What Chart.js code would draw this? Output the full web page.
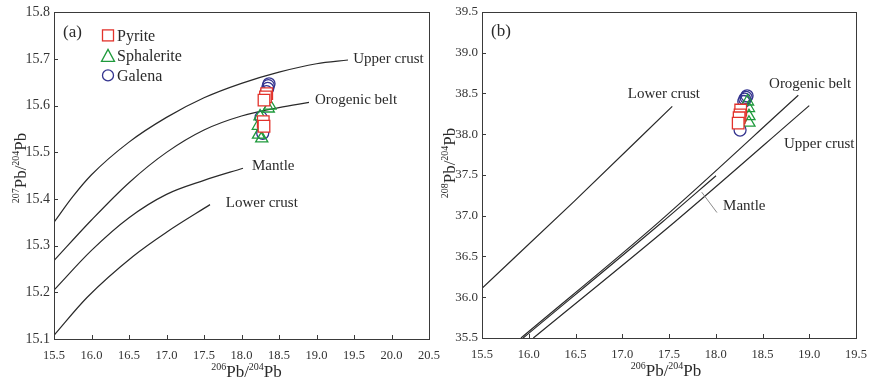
<!DOCTYPE html>
<html>
<head>
<meta charset="utf-8">
<script src="https://cdn.jsdelivr.net/npm/chart.js@4.4.1/dist/chart.umd.min.js"></script>
<style>
  body { margin: 0; background: #fff; }
  #wrap { position: relative; width: 877px; height: 381px; }
  #wrap canvas { position: absolute; top: 0; }
  #ca { left: 0; }
  #cb { left: 440px; }
</style>
</head>
<body>
<div id="wrap">
  <canvas id="ca" width="460" height="381"></canvas>
  <canvas id="cb" width="437" height="381"></canvas>
</div>
<script>
const SERIF = "'Liberation Serif', 'Times New Roman', serif";
const INK = '#2a2a2a';

// ---- (a) 206Pb/204Pb vs 207Pb/204Pb ----
const aUpperX = [15.5, 15.75, 16.0, 16.5, 17.0, 17.5, 18.0, 18.5, 19.0, 19.42];
const aUpperY = [15.35, 15.405, 15.452, 15.522, 15.575, 15.617, 15.648, 15.672, 15.69, 15.698];
const aOroX = [15.5, 16.0, 16.5, 17.0, 17.5, 18.0, 18.5, 18.9];
const aOroY = [15.268, 15.355, 15.435, 15.50, 15.548, 15.578, 15.596, 15.607];
const aMantleX = [15.5, 16.0, 16.5, 17.0, 17.5, 18.02];
const aMantleY = [15.205, 15.29, 15.36, 15.41, 15.44, 15.466];
const aLowerX = [15.5, 15.94, 16.56, 17.01, 17.58];
const aLowerY = [15.108, 15.189, 15.278, 15.33, 15.388];

const aPyriteX = [18.336, 18.32, 18.30, 18.29, 18.30];
const aPyriteY = [15.626, 15.619, 15.612, 15.566, 15.556];
const aSphalX = [18.357, 18.38, 18.247, 18.224, 18.227, 18.27];
const aSphalY = [15.594, 15.60, 15.577, 15.557, 15.538, 15.53];
const aGalenaX = [18.367, 18.357, 18.35, 18.333, 18.283, 18.26];
const aGalenaY = [15.647, 15.643, 15.637, 15.630, 15.541, 15.575];

// ---- (b) 206Pb/204Pb vs 208Pb/204Pb ----
const bLowerX = [15.5, 16.48, 17.535];
const bLowerY = [36.11, 37.17, 38.34];
const bOroX = [15.917, 17.40, 18.883];
const bOroY = [35.5, 36.93, 38.476];
const bMantleX = [15.94, 17.432, 18.003];
const bMantleY = [35.5, 36.926, 37.49];
const bUpperX = [16.049, 17.564, 19.0];
const bUpperY = [35.5, 36.926, 38.35];

const bPyriteX = [18.267, 18.26, 18.25, 18.24];
const bPyriteY = [38.295, 38.235, 38.20, 38.135];
const bSphalX = [18.34, 18.35, 18.355, 18.355];
const bSphalY = [38.40, 38.32, 38.22, 38.14];
const bGalenaX = [18.335, 18.325, 18.31, 18.30, 18.26];
const bGalenaY = [38.47, 38.45, 38.43, 38.40, 38.05];

const RED = '#e2322b', GREEN = '#1f9a3c', BLUE = '#34348f';

function pts(xs, ys) {
  return xs.map((x, i) => ({ x: x, y: ys[i] }));
}

function curve(xs, ys) {
  return {
    data: pts(xs, ys), showLine: true, pointRadius: 0,
    borderColor: INK, borderWidth: 1.2, cubicInterpolationMode: 'monotone'
  };
}

function marks(xs, ys, style, color, r, fill) {
  return {
    data: pts(xs, ys), showLine: false, pointStyle: style, pointRadius: r,
    pointBorderColor: color, pointBackgroundColor: fill, pointBorderWidth: 1.3
  };
}

// superscript-aware text, centred on x
function rich(ctx, x, y, parts, rotate) {
  const big = '17px ' + SERIF, small = '10px ' + SERIF;
  let w = 0;
  parts.forEach(p => { ctx.font = p[1] ? small : big; w += ctx.measureText(p[0]).width; });
  ctx.save();
  ctx.translate(x, y);
  if (rotate) ctx.rotate(-Math.PI / 2);
  ctx.fillStyle = INK;
  ctx.textAlign = 'left';
  ctx.textBaseline = 'alphabetic';
  let cx = -w / 2;
  parts.forEach(p => {
    ctx.font = p[1] ? small : big;
    ctx.fillText(p[0], cx, p[1] ? -7 : 0);
    cx += ctx.measureText(p[0]).width;
  });
  ctx.restore();
}

function ratio(top) {
  return [[top, true], ['Pb', false], ['/', false], ['204', true], ['Pb', false]];
}

// frame, inward ticks, labels and titles
const decor = {
  id: 'decor',
  afterDraw(chart, args, o) {
    const ctx = chart.ctx, a = chart.chartArea;
    const sx = chart.scales.x, sy = chart.scales.y;
    ctx.save();
    ctx.strokeStyle = '#3a3a3a';
    ctx.lineWidth = 1;
    ctx.strokeRect(Math.round(a.left) + 0.5, Math.round(a.top) + 0.5,
      Math.round(a.right - a.left), Math.round(a.bottom - a.top));
    ctx.beginPath();
    sx.ticks.forEach(t => {
      const px = Math.round(sx.getPixelForValue(t.value)) + 0.5;
      ctx.moveTo(px, a.bottom); ctx.lineTo(px, a.bottom - 4);
    });
    sy.ticks.forEach(t => {
      const py = Math.round(sy.getPixelForValue(t.value)) + 0.5;
      ctx.moveTo(a.left, py); ctx.lineTo(a.left + 4, py);
    });
    ctx.stroke();

    ctx.fillStyle = INK;
    ctx.textBaseline = 'middle';
    ctx.textAlign = 'left';
    ctx.font = '15px ' + SERIF;
    o.labels.forEach(l => {
      ctx.fillText(l[0], sx.getPixelForValue(l[1]), sy.getPixelForValue(l[2]));
    });
    ctx.font = '17px ' + SERIF;
    ctx.fillText(o.panel, a.left + 9, a.top + 20);

    if (o.leader) {
      ctx.strokeStyle = '#8a8a8a';
      ctx.beginPath();
      ctx.moveTo(sx.getPixelForValue(o.leader[0]), sy.getPixelForValue(o.leader[1]));
      ctx.lineTo(sx.getPixelForValue(o.leader[2]), sy.getPixelForValue(o.leader[3]));
      ctx.stroke();
    }

    if (o.legend) {
      const lx = a.left + 54, ly = a.top + 23;
      ctx.lineWidth = 1.3;
      ctx.strokeStyle = RED;
      ctx.strokeRect(lx - 5.5, ly - 5.5, 11, 11);
      ctx.strokeStyle = GREEN;
      ctx.beginPath();
      ctx.moveTo(lx, ly + 14); ctx.lineTo(lx + 6.5, ly + 26); ctx.lineTo(lx - 6.5, ly + 26);
      ctx.closePath(); ctx.stroke();
      ctx.strokeStyle = BLUE;
      ctx.beginPath(); ctx.arc(lx, ly + 40, 5.5, 0, Math.PI * 2); ctx.stroke();
      ctx.font = '16px ' + SERIF;
      ctx.fillStyle = INK;
      ctx.fillText('Pyrite', lx + 9, ly + 1);
      ctx.fillText('Sphalerite', lx + 9, ly + 21);
      ctx.fillText('Galena', lx + 9, ly + 41);
    }

    rich(ctx, (a.left + a.right) / 2 + o.xTitleShift, a.bottom + 38, ratio('206'), false);
    rich(ctx, o.yTitleX, o.yTitleY, ratio(o.yTop), true);
    ctx.restore();
  }
};

function makeChart(id, cfg) {
  return new Chart(document.getElementById(id), {
    type: 'scatter',
    data: { datasets: cfg.datasets },
    options: {
      responsive: false,
      animation: false,
      layout: { autoPadding: false, padding: { left: 0, right: cfg.padRight, top: 8, bottom: 0 } },
      plugins: { legend: { display: false }, tooltip: { enabled: false }, decor: cfg.decor },
      scales: {
        x: {
          type: 'linear', min: cfg.xMin, max: cfg.xMax,
          grid: { display: false, drawTicks: false }, border: { display: false },
          ticks: { stepSize: 0.5, padding: 9, color: '#333', font: { family: SERIF, size: 12.5 },
            maxRotation: 0, autoSkip: false, callback: v => v.toFixed(1) },
          afterFit: s => { s.height = 381 - cfg.bottom; }
        },
        y: {
          type: 'linear', min: cfg.yMin, max: cfg.yMax,
          grid: { display: false, drawTicks: false }, border: { display: false },
          ticks: { stepSize: cfg.yStep, padding: 4, color: '#333', font: { family: SERIF, size: cfg.yFont },
            autoSkip: false, callback: v => v.toFixed(1) },
          afterFit: s => { s.width = cfg.left; }
        }
      }
    },
    plugins: [decor]
  });
}

makeChart('ca', {
  left: 54, bottom: 339, padRight: 460 - 429, yFont: 14,
  xMin: 15.5, xMax: 20.5, yMin: 15.1, yMax: 15.8, yStep: 0.1,
  datasets: [
    marks(aPyriteX, aPyriteY, 'rect', RED, 8.2, '#ffffff'),
    marks(aSphalX, aSphalY, 'triangle', GREEN, 7, 'rgba(0,0,0,0)'),
    marks(aGalenaX, aGalenaY, 'circle', BLUE, 6, 'rgba(0,0,0,0)'),
    curve(aUpperX, aUpperY),
    curve(aOroX, aOroY),
    curve(aMantleX, aMantleY),
    curve(aLowerX, aLowerY)
  ],
  decor: {
    panel: '(a)', legend: true, xTitleShift: 5, yTitleX: 26, yTitleY: 168, yTop: '207',
    labels: [
      ['Upper crust', 19.49, 15.70],
      ['Orogenic belt', 18.98, 15.613],
      ['Mantle', 18.14, 15.470],
      ['Lower crust', 17.79, 15.391]
    ]
  }
});

makeChart('cb', {
  left: 42, bottom: 338, padRight: 437 - 416, yFont: 13,
  xMin: 15.5, xMax: 19.5, yMin: 35.5, yMax: 39.5, yStep: 0.5,
  datasets: [
    marks(bPyriteX, bPyriteY, 'rect', RED, 8.2, '#ffffff'),
    marks(bSphalX, bSphalY, 'triangle', GREEN, 7, 'rgba(0,0,0,0)'),
    marks(bGalenaX, bGalenaY, 'circle', BLUE, 6, 'rgba(0,0,0,0)'),
    curve(bLowerX, bLowerY),
    curve(bOroX, bOroY),
    curve(bMantleX, bMantleY),
    curve(bUpperX, bUpperY)
  ],
  decor: {
    panel: '(b)', legend: false, xTitleShift: -3, yTitleX: 15, yTitleY: 163, yTop: '208',
    leader: [18.013, 37.038, 17.85, 37.288],
    labels: [
      ['Lower crust', 17.06, 38.497],
      ['Orogenic belt', 18.57, 38.618],
      ['Upper crust', 18.73, 37.88],
      ['Mantle', 18.078, 37.119]
    ]
  }
});
</script>
</body>
</html>
